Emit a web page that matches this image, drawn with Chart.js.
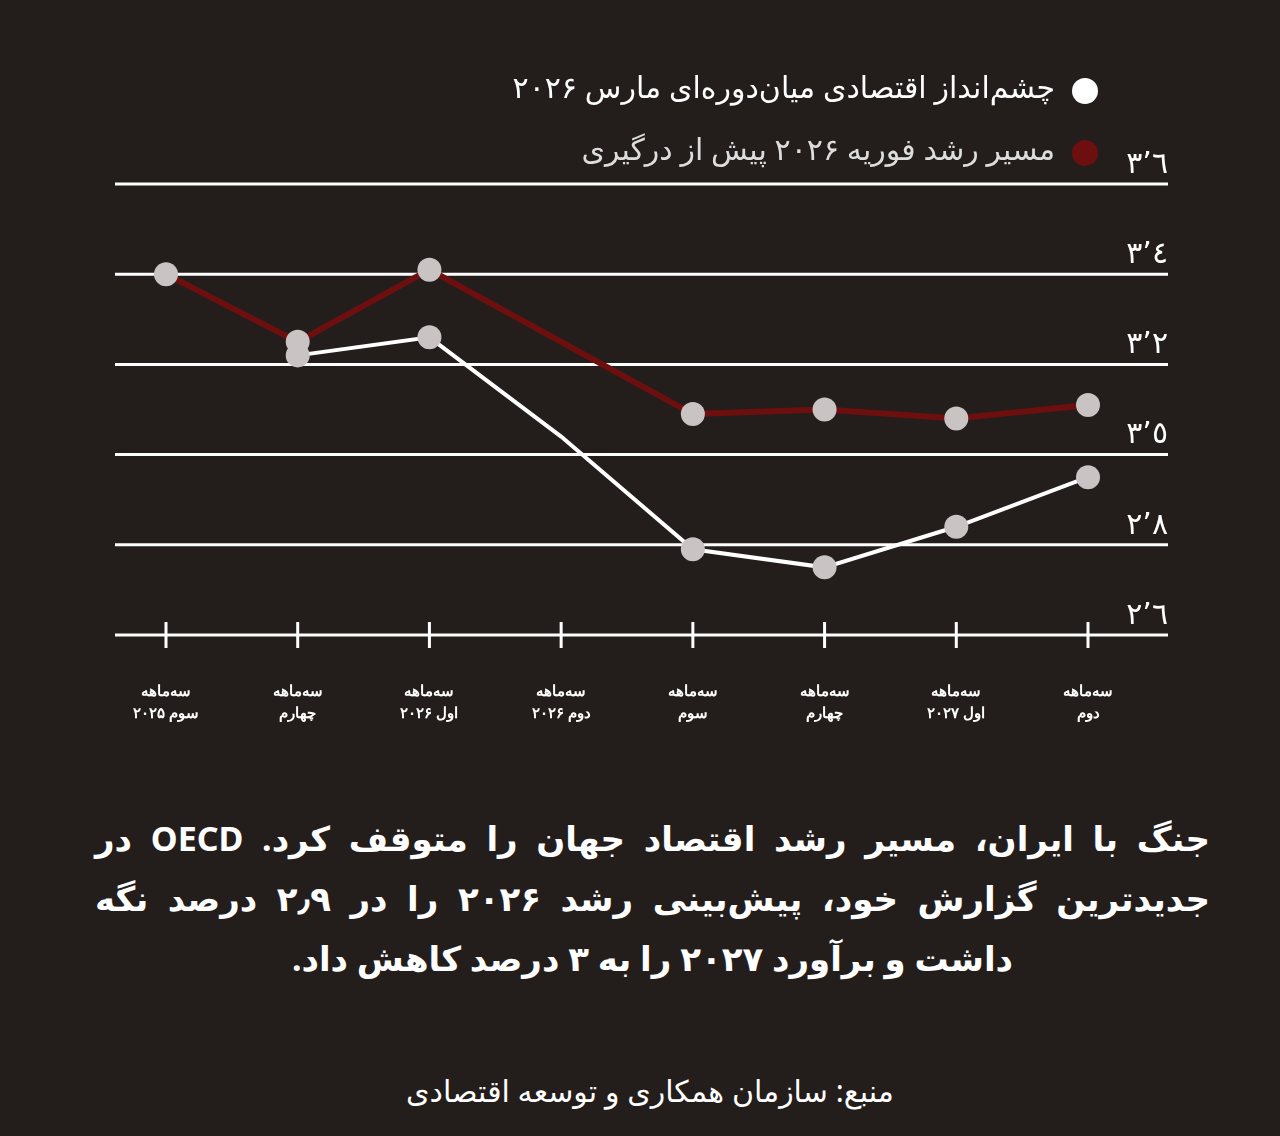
<!DOCTYPE html>
<html lang="fa">
<head>
<meta charset="utf-8">
<script src="https://cdn.jsdelivr.net/npm/chart.js@4/dist/chart.umd.min.js"></script>
<style>
body{margin:0;width:1280px;height:1136px;background:#231e1c;overflow:hidden;font-family:"Noto Sans","DejaVu Sans",sans-serif;color:#fff}
#wrap{position:absolute;left:0;top:0;width:1280px;height:800px}
.leg{position:absolute;right:225px;font-size:30px;direction:rtl;white-space:nowrap}
.dot{position:absolute;width:26px;height:26px;border-radius:50%}
#note{position:absolute;left:95px;width:1115px;top:808px;direction:rtl;text-align:justify;text-align-last:center;font-size:34px;font-weight:bold;line-height:60px}
#src{position:absolute;left:0;width:1300px;top:1070px;text-align:center;direction:rtl;font-size:30px}
</style>
</head>
<body>
<div id="wrap"><canvas id="c" width="1280" height="800"></canvas></div>
<div class="leg" style="top:66px">چشم‌انداز اقتصادی میان‌دوره‌ای مارس ۲۰۲۶</div>
<div class="dot" style="left:1072px;top:78px;background:#fff"></div>
<div class="leg" style="top:128px;color:#ddd">مسیر رشد فوریه ۲۰۲۶ پیش از درگیری</div>
<div class="dot" style="left:1072px;top:140px;background:#6e0f0f"></div>
<div id="note">جنگ با ایران، مسیر رشد اقتصاد جهان را متوقف کرد. OECD در جدیدترین گزارش خود، پیش‌بینی رشد ۲۰۲۶ را در ۲٫۹ درصد نگه داشت و برآورد ۲۰۲۷ را به ۳ درصد کاهش داد.</div>
<div id="src">منبع: سازمان همکاری و توسعه اقتصادی</div>
<script>
var quarters = [['سه‌ماهه','سوم ۲۰۲۵'],['سه‌ماهه','چهارم'],['سه‌ماهه','اول ۲۰۲۶'],['سه‌ماهه','دوم ۲۰۲۶'],['سه‌ماهه','سوم'],['سه‌ماهه','چهارم'],['سه‌ماهه','اول ۲۰۲۷'],['سه‌ماهه','دوم']];
var marchOutlook = [null, 3.22, 3.26, 3.04, 2.79, 2.75, 2.84, 2.95];
var febPath = [3.40, 3.25, 3.41, 3.25, 3.09, 3.10, 3.08, 3.11];
var yTicks = [2.6, 2.8, 3.0, 3.2, 3.4, 3.6];
var yTickLabels = ['٢’٦','٢’٨','٣’٥','٣’٢','٣’٤','٣’٦'];

var frame = {
  id: 'frame',
  beforeDatasetsDraw: function(chart){
    var ctx = chart.ctx, y = chart.scales.y, x = chart.scales.x;
    ctx.save();
    ctx.direction = 'ltr';
    ctx.strokeStyle = '#fff'; ctx.lineWidth = 3;
    yTicks.forEach(function(v, i){
      var py = y.getPixelForValue(v);
      ctx.beginPath(); ctx.moveTo(115, py); ctx.lineTo(1168, py); ctx.stroke();
      ctx.fillStyle = '#fff'; ctx.font = '30px "DejaVu Sans"';
      ctx.textAlign = 'right'; ctx.textBaseline = 'bottom';
      ctx.fillText('\u202D' + yTickLabels[i] + '\u202C', 1168, py - 4);
    });
    var base = y.getPixelForValue(2.6);
    ctx.direction = 'rtl';
    quarters.forEach(function(q, i){
      var px = x.getPixelForValue(i);
      ctx.beginPath(); ctx.moveTo(px, base - 13); ctx.lineTo(px, base + 13); ctx.stroke();
      ctx.font = 'bold 15px "Noto Sans"'; ctx.textAlign = 'center'; ctx.textBaseline = 'middle';
      ctx.fillText(q[0], px, 692); ctx.fillText(q[1], px, 714);
    });
    ctx.restore();
  }
};

var dots = ['#c9c4c3','#c9c4c3','#c9c4c3','rgba(0,0,0,0)','#c9c4c3','#c9c4c3','#c9c4c3','#c9c4c3'];
new Chart(document.getElementById('c'), {
  type: 'line',
  data: {
    labels: quarters,
    datasets: [
      {label: 'فوریه', data: febPath, borderColor: '#6e0f0f', borderWidth: 6,
       pointBackgroundColor: dots, pointBorderWidth: 0, pointRadius: 12},
      {label: 'مارس', data: marchOutlook, borderColor: '#fff', borderWidth: 4,
       pointBackgroundColor: dots, pointBorderWidth: 0, pointRadius: 12}
    ]
  },
  options: {
    responsive: false, animation: false,
    layout: {padding: {left: 166, right: 192, top: 184, bottom: 165}},
    plugins: {legend: {display: false}, tooltip: {enabled: false}},
    scales: {
      x: {display: false, offset: false},
      y: {display: false, min: 2.6, max: 3.6}
    }
  },
  plugins: [frame]
});
</script>
</body>
</html>
